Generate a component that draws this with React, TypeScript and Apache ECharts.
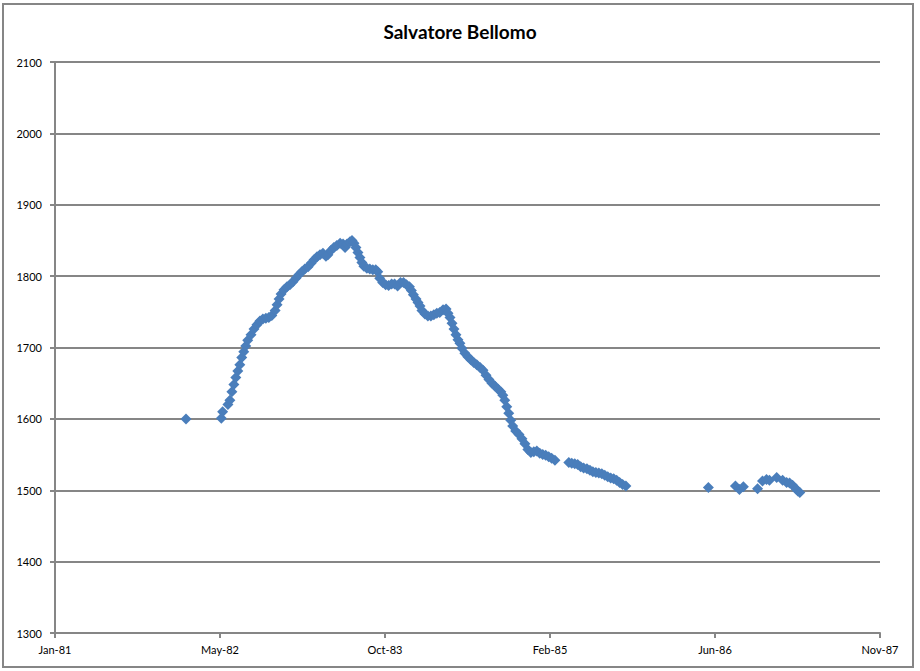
import React, { useEffect, useRef } from "react";
import * as echarts from "echarts";

const TITLE = "Salvatore Bellomo";
const MONTHS = ["Jan","Feb","Mar","Apr","May","Jun","Jul","Aug","Sep","Oct","Nov","Dec"];
const AXIS_BASE = "1981-01-05";

const dates: string[] = [
  "1982-02-06","1982-05-24","1982-05-28","1982-06-13","1982-06-19","1982-06-25","1982-07-01","1982-07-07","1982-07-13","1982-07-19",
  "1982-07-25","1982-07-31","1982-08-06","1982-08-12","1982-08-22","1982-08-31","1982-09-09","1982-09-18","1982-09-27","1982-10-06",
  "1982-10-15","1982-10-24","1982-11-03","1982-11-09","1982-11-15","1982-11-21","1982-11-30","1982-12-09","1982-12-18","1982-12-27",
  "1983-01-05","1983-01-14","1983-01-23","1983-02-01","1983-02-11","1983-02-20","1983-03-01","1983-03-10","1983-03-19","1983-03-28",
  "1983-04-06","1983-04-12","1983-04-21","1983-04-30","1983-05-09","1983-05-19","1983-05-28","1983-06-03","1983-06-09","1983-06-18",
  "1983-06-24","1983-06-30","1983-07-06","1983-07-12","1983-07-18","1983-07-24","1983-07-30","1983-08-08","1983-08-17","1983-08-26",
  "1983-09-04","1983-09-10","1983-09-16","1983-09-25","1983-10-04","1983-10-13","1983-10-22","1983-10-31","1983-11-09","1983-11-18",
  "1983-11-27","1983-12-06","1983-12-15","1983-12-21","1983-12-27",
  "1984-01-04","1984-01-10","1984-01-16","1984-01-22","1984-01-31","1984-02-09","1984-02-18","1984-02-27","1984-03-07","1984-03-16",
  "1984-03-26","1984-04-04","1984-04-10","1984-04-16","1984-04-22","1984-04-28","1984-05-04","1984-05-10","1984-05-16","1984-05-22",
  "1984-05-31","1984-06-09","1984-06-18","1984-06-27","1984-07-06","1984-07-16","1984-07-25","1984-08-03","1984-08-12","1984-08-21",
  "1984-08-30","1984-09-08","1984-09-17","1984-09-23","1984-09-29","1984-10-05","1984-10-11","1984-10-17","1984-10-23","1984-11-01",
  "1984-11-11","1984-11-20","1984-11-29","1984-12-08","1984-12-17","1984-12-26",
  "1985-01-04","1985-01-13","1985-01-22","1985-01-31","1985-02-09","1985-02-18","1985-02-28",
  "1985-04-11","1985-04-20","1985-04-29","1985-05-08","1985-05-17","1985-05-26","1985-06-05","1985-06-14","1985-06-23","1985-07-02",
  "1985-07-11","1985-07-20","1985-07-29","1985-08-07","1985-08-16","1985-08-25","1985-09-03","1985-09-12","1985-09-21","1985-10-01",
  "1986-06-08","1986-08-29","1986-09-10","1986-09-22","1986-11-04","1986-11-19","1986-12-01","1986-12-10",
  "1987-01-01","1987-01-19","1987-01-31","1987-02-09","1987-02-18","1987-02-28","1987-03-06","1987-03-12"
];

const ratings: number[] = [
  1600,1601,1610,1620,1626,1638,1648,1658,1667,1676,
  1686,1694,1702,1710,1718,1726,1732,1737,1740,1741,
  1742,1745,1752,1760,1768,1775,1781,1785,1788,1792,
  1797,1802,1806,1810,1813,1818,1823,1827,1830,1832,
  1828,1830,1836,1840,1843,1846,1845,1840,1845,1848,
  1850,1846,1840,1833,1826,1819,1814,1811,1810,1809,
  1809,1806,1797,1791,1788,1787,1789,1789,1786,1791,
  1791,1788,1785,1780,1774,
  1768,1763,1758,1752,1747,1744,1744,1746,1748,1749,
  1753,1754,1748,1742,1734,1726,1718,1711,1706,1699,
  1692,1687,1683,1679,1676,1672,1668,1661,1655,1650,
  1646,1642,1638,1633,1626,1617,1608,1598,1590,1583,
  1578,1572,1565,1557,1553,1554,
  1555,1552,1550,1549,1547,1545,1542,
  1539,1538,1537,1536,1533,1531,1530,1528,1526,1525,
  1524,1523,1521,1519,1517,1516,1514,1511,1508,1506,
  1504,1506,1501,1505,1502,1513,1515,1514,
  1518,1514,1511,1510,1507,1502,1499,1497
];

const yTicks = { min: 1300, max: 2100, step: 100 };
const xTicks = { min: 0, max: 2500, step: 500 };

function dayOf(s: string): number {
  const [y, m, d] = s.split("-").map(Number);
  const [by, bm, bd] = AXIS_BASE.split("-").map(Number);
  return (Date.UTC(y, m - 1, d) - Date.UTC(by, bm - 1, bd)) / 86400000;
}

function labelOf(v: number): string {
  const [by, bm, bd] = AXIS_BASE.split("-").map(Number);
  const dt = new Date(Date.UTC(by, bm - 1, bd) + v * 86400000);
  return MONTHS[dt.getUTCMonth()] + "-" + String(dt.getUTCFullYear()).slice(2);
}

export default function App() {
  const ref = useRef<HTMLDivElement>(null);
  useEffect(() => {
    document.body.style.margin = "0";
    if (!ref.current) return;
    const chart = echarts.init(ref.current, undefined, { renderer: "svg" });
    const data = dates.map((d, i) => [dayOf(d), ratings[i]]);
    const gray = "#868686";
    chart.setOption({
      animation: false,
      backgroundColor: "#ffffff",
      title: {
        text: TITLE,
        left: "center",
        top: 17,
        textStyle: { fontFamily: "Lato", fontWeight: "bold", fontSize: 19, color: "#000" },
      },
      graphic: [
        {
          type: "rect",
          shape: { x: 3, y: 4, width: 910, height: 663 },
          style: { fill: "none", stroke: gray, lineWidth: 2 },
          silent: true,
        },
      ],
      grid: { left: 55, right: 40, top: 62, bottom: 38 },
      xAxis: {
        type: "value",
        min: xTicks.min,
        max: xTicks.max,
        interval: xTicks.step,
        axisLine: { show: true, onZero: false, lineStyle: { color: gray, width: 2 } },
        axisTick: { show: true, length: 5, lineStyle: { color: gray, width: 2 } },
        splitLine: { show: false },
        axisLabel: {
          formatter: (v: number) => labelOf(v),
          fontFamily: "Lato",
          fontSize: 11,
          color: "#000",
          margin: 11,
        },
      },
      yAxis: {
        type: "value",
        min: yTicks.min,
        max: yTicks.max,
        interval: yTicks.step,
        axisLine: { show: true, lineStyle: { color: gray, width: 2 } },
        axisTick: { show: true, length: 5, lineStyle: { color: gray, width: 2 } },
        splitLine: { show: true, lineStyle: { color: gray, width: 2 } },
        axisLabel: {
          formatter: (v: number) => String(v),
          fontFamily: "Lato",
          fontSize: 11,
          color: "#000",
          margin: 13,
        },
      },
      series: [
        {
          type: "scatter",
          data,
          symbol: "diamond",
          symbolSize: 11,
          itemStyle: { color: "#4A7EBB", opacity: 1 },
        },
      ],
    });
    return () => chart.dispose();
  }, []);
  return <div ref={ref} style={{ width: 920, height: 671 }} />;
}
